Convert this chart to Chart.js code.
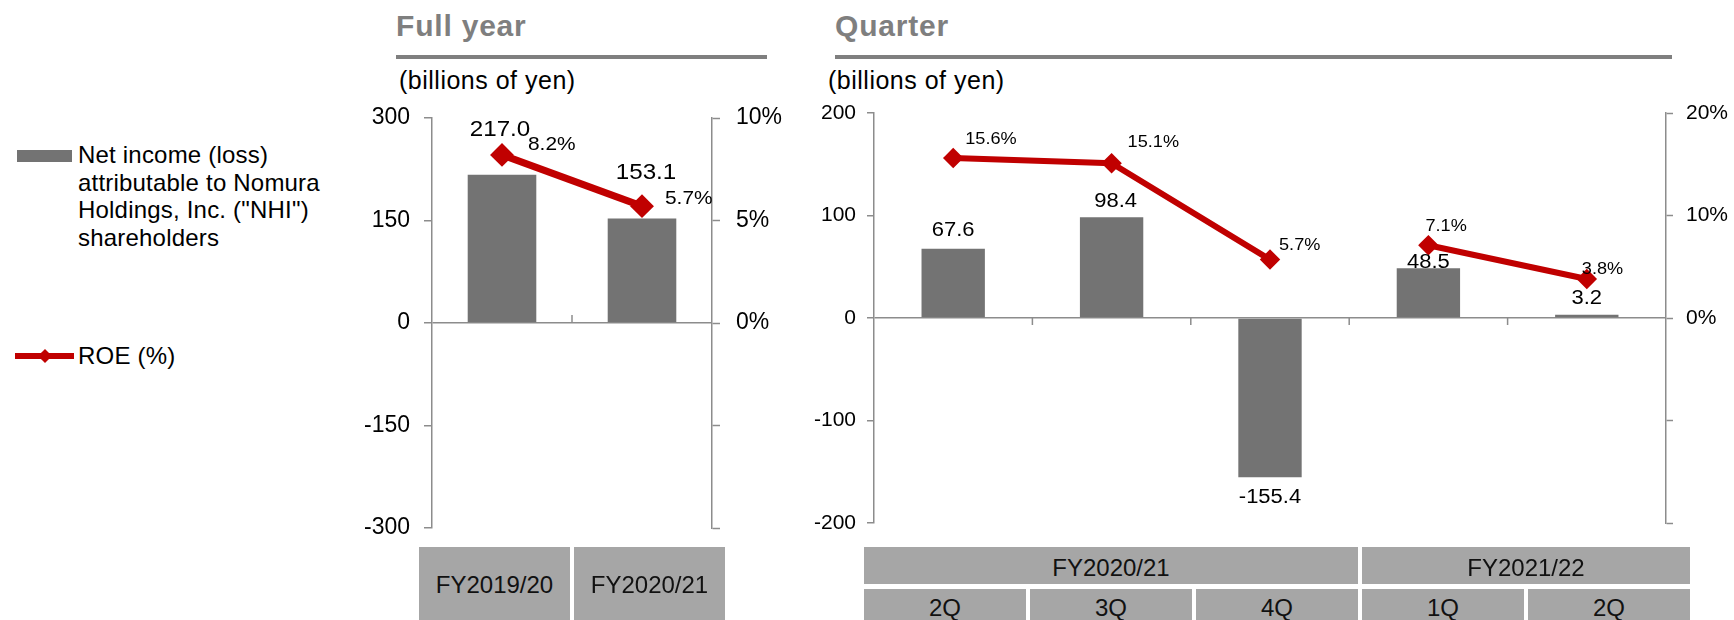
<!DOCTYPE html>
<html>
<head>
<meta charset="utf-8">
<script src="https://cdn.jsdelivr.net/npm/chart.js@4.4.0/dist/chart.umd.min.js"></script>
<style>
  html, body { margin: 0; padding: 0; background: #fff; overflow: hidden; }
  body { width: 1734px; height: 620px; position: relative; font-family: 'Liberation Sans', Arial, sans-serif; color: #000; }
  .abs { position: absolute; white-space: nowrap; }
  .title { font-weight: bold; font-size: 30px; line-height: 30px; letter-spacing: 0.8px; color: #7f7f7f; top: 11px; }
  .rule { height: 4px; background: #7f7f7f; top: 55px; }
  .unit { font-size: 25px; line-height: 25px; letter-spacing: 0.5px; top: 68px; }
  .legend { font-size: 24px; line-height: 27.7px; letter-spacing: 0.2px; }
  .cell { position: absolute; background: #a6a6a6; font-size: 24px; text-align: center; color: #111; overflow: hidden; }
  canvas { position: absolute; }
</style>
</head>
<body>
  <div class="abs" style="left:17px;top:150px;width:55px;height:12px;background:#737373"></div>
  <div class="abs legend" style="left:78px;top:141px;">Net income (loss)<br>attributable to Nomura<br>Holdings, Inc. ("NHI")<br>shareholders</div>
  <div class="abs" style="left:15px;top:353px;width:59px;height:6px;background:#c00000"></div>
  <div class="abs" style="left:40px;top:351px;width:10px;height:10px;background:#c00000;transform:rotate(45deg)"></div>
  <div class="abs legend" style="left:78px;top:342px;">ROE (%)</div>

  <div class="abs title" style="left:396px;">Full year</div>
  <div class="abs rule" style="left:396px;width:371px;"></div>
  <div class="abs unit" style="left:399px;">(billions of yen)</div>

  <div class="abs title" style="left:835px;">Quarter</div>
  <div class="abs rule" style="left:835px;width:837px;"></div>
  <div class="abs unit" style="left:828px;">(billions of yen)</div>

  <canvas id="fullYear" width="470" height="490" style="left:330px;top:78px;"></canvas>
  <canvas id="quarter" width="954" height="490" style="left:780px;top:73px;"></canvas>

<script>
// full year
const fullYearLabels = ['FY2019/20', 'FY2020/21'];
const fullYearIncome = [217.0, 153.1];
const fullYearRoe = [8.2, 5.7];
const fullYearIncomeTicks = [-300, -150, 0, 150, 300];
const fullYearRoeTicks = [-10, -5, 0, 5, 10];

// quarters
const quarterLabels = ['2Q', '3Q', '4Q', '1Q', '2Q'];
const quarterFiscalYears = ['FY2020/21', 'FY2020/21', 'FY2020/21', 'FY2021/22', 'FY2021/22'];
const quarterIncome = [67.6, 98.4, -155.4, 48.5, 3.2];
const quarterRoe = [15.6, 15.1, 5.7, 7.1, 3.8];
const quarterIncomeTicks = [-200, -100, 0, 100, 200];
const quarterRoeTicks = [-20, -10, 0, 10, 20];

const FONT = "'Liberation Sans', Arial, sans-serif";
const axisColor = '#8c8c8c';
const barColor = '#737373';
const roeColor = '#c00000';

// labels above bars and next to ROE points
const valueLabels = {
  id: 'valueLabels',
  afterDatasetsDraw(chart, args, opts) {
    const ctx = chart.ctx;
    ctx.save();
    ctx.fillStyle = '#000';
    ctx.textBaseline = 'middle';
    chart.data.datasets.forEach((ds, di) => {
      const meta = chart.getDatasetMeta(di);
      const isBar = ds.type === 'bar';
      const offs = isBar ? opts.barOffsets : opts.lineOffsets;
      ctx.font = (isBar ? opts.barSize : opts.lineSize) + 'px ' + FONT;
      ctx.textAlign = isBar ? 'center' : 'left';
      meta.data.forEach((el, i) => {
        const v = ds.data[i];
        const txt = isBar ? v.toFixed(1) : v.toFixed(1) + '%';
        ctx.save();
        ctx.translate(el.x + offs[i][0], el.y + offs[i][1]);
        ctx.scale(1.1, 1);
        ctx.fillText(txt, 0, 0);
        ctx.restore();
      });
    });
    ctx.restore();
  }
};

// small marks on the zero line between categories
const categoryTicks = {
  id: 'categoryTicks',
  beforeDatasetsDraw(chart, args, opts) {
    const x = chart.scales.x;
    const y0 = chart.scales.y.getPixelForValue(0);
    const ctx = chart.ctx;
    ctx.save();
    ctx.strokeStyle = axisColor;
    ctx.lineWidth = 1.5;
    ctx.beginPath();
    for (let i = 0; i < chart.data.labels.length - 1; i++) {
      const bx = (x.getPixelForValue(i) + x.getPixelForValue(i + 1)) / 2;
      ctx.moveTo(bx, y0);
      ctx.lineTo(bx, y0 + opts.length);
    }
    ctx.stroke();
    ctx.restore();
  }
};

function makeChart(id, o) {
  return new Chart(document.getElementById(id).getContext('2d'), {
    data: {
      labels: o.labels,
      datasets: [{
        type: 'line',
        data: o.roe,
        yAxisID: 'y1',
        order: 1,
        borderColor: roeColor,
        borderWidth: o.lineWidth,
        backgroundColor: roeColor,
        pointStyle: 'rectRot',
        pointRadius: o.pointRadius,
        pointBackgroundColor: roeColor,
        pointBorderColor: roeColor,
        tension: 0,
        segment: o.segment
      }, {
        type: 'bar',
        data: o.income,
        yAxisID: 'y',
        order: 2,
        backgroundColor: barColor,
        categoryPercentage: 1,
        barPercentage: o.barPct
      }]
    },
    options: {
      responsive: false,
      animation: false,
      events: [],
      layout: { padding: { top: 40, bottom: 40, left: 0, right: 0 } },
      plugins: {
        legend: { display: false },
        tooltip: { enabled: false },
        valueLabels: { barOffsets: o.barOffsets, lineOffsets: o.lineOffsets, barSize: o.barSize, lineSize: o.lineSize },
        categoryTicks: { length: o.catTick }
      },
      scales: {
        x: { display: false },
        y: {
          position: 'left',
          min: o.incomeTicks[0],
          max: o.incomeTicks[o.incomeTicks.length - 1],
          afterBuildTicks: a => { a.ticks = o.incomeTicks.map(v => ({ value: v })); },
          afterFit: s => { s.width = o.leftW; },
          ticks: { color: '#000', font: { family: FONT, size: o.tickSize }, padding: o.leftPad, callback: v => String(v) },
          grid: {
            drawOnChartArea: true,
            color: c => (c.tick && c.tick.value === 0) ? axisColor : 'rgba(0,0,0,0)',
            lineWidth: 1.5,
            tickColor: axisColor,
            tickWidth: 1.5,
            tickLength: o.tickLen
          },
          border: { display: true, color: axisColor, width: 1.5 }
        },
        y1: {
          position: 'right',
          min: o.roeTicks[0],
          max: o.roeTicks[o.roeTicks.length - 1],
          afterBuildTicks: a => { a.ticks = o.roeTicks.map(v => ({ value: v })); },
          afterFit: s => { s.width = o.rightW; },
          ticks: { color: '#000', font: { family: FONT, size: o.tickSize }, padding: o.rightPad, callback: v => v >= 0 ? v + '%' : '' },
          grid: { drawOnChartArea: false, tickColor: axisColor, tickWidth: 1.5, tickLength: o.tickLen },
          border: { display: true, color: axisColor, width: 1.5 }
        }
      }
    },
    plugins: [categoryTicks, valueLabels]
  });
}

makeChart('fullYear', {
  labels: fullYearLabels,
  income: fullYearIncome,
  roe: fullYearRoe,
  incomeTicks: fullYearIncomeTicks,
  roeTicks: fullYearRoeTicks,
  lineWidth: 7,
  pointRadius: 7,
  barPct: 0.49,
  leftW: 102, rightW: 88, leftPad: 14, rightPad: 16,
  tickSize: 23, tickLen: 8, catTick: -8,
  barSize: 22, lineSize: 19,
  barOffsets: [[-2, -45], [4, -45]],
  lineOffsets: [[26, -10], [23, -7]]
});

makeChart('quarter', {
  labels: quarterLabels,
  income: quarterIncome,
  roe: quarterRoe,
  incomeTicks: quarterIncomeTicks,
  roeTicks: quarterRoeTicks,
  lineWidth: 6,
  pointRadius: 6,
  barPct: 0.40,
  leftW: 94, rightW: 68, leftPad: 11, rightPad: 13,
  tickSize: 21, tickLen: 7, catTick: 7,
  barSize: 20, lineSize: 16.5,
  // no line between the last quarter of one fiscal year and the first of the next
  segment: { borderColor: c => quarterFiscalYears[c.p0DataIndex] !== quarterFiscalYears[c.p1DataIndex] ? 'rgba(0,0,0,0)' : roeColor },
  barOffsets: [[0, -18], [4, -16], [0, 20], [0, -6], [0, -16]],
  lineOffsets: [[12, -19], [16, -21], [9, -14], [-3, -19], [-5, -10]]
});

// category boxes under the charts
function addCell(text, left, top, width, height) {
  const d = document.createElement('div');
  d.className = 'cell';
  d.style.left = left + 'px';
  d.style.top = top + 'px';
  d.style.width = width + 'px';
  d.style.height = height + 'px';
  d.style.lineHeight = height + 'px';
  d.textContent = text;
  document.body.appendChild(d);
  return d;
}

fullYearLabels.forEach((t, i) => {
  const c = addCell(t, 419 + i * 155, 547, 151, 73);
  c.style.lineHeight = '76px';
});

quarterLabels.forEach((t, i) => addCell(t, 864 + i * 166, 589, 162, 38));

let start = 0;
for (let i = 1; i <= quarterFiscalYears.length; i++) {
  if (i === quarterFiscalYears.length || quarterFiscalYears[i] !== quarterFiscalYears[start]) {
    const c = addCell(quarterFiscalYears[start], 864 + start * 166, 547, (i - start) * 166 - 4, 37);
    c.style.lineHeight = '42px';
    start = i;
  }
}
</script>
</body>
</html>
